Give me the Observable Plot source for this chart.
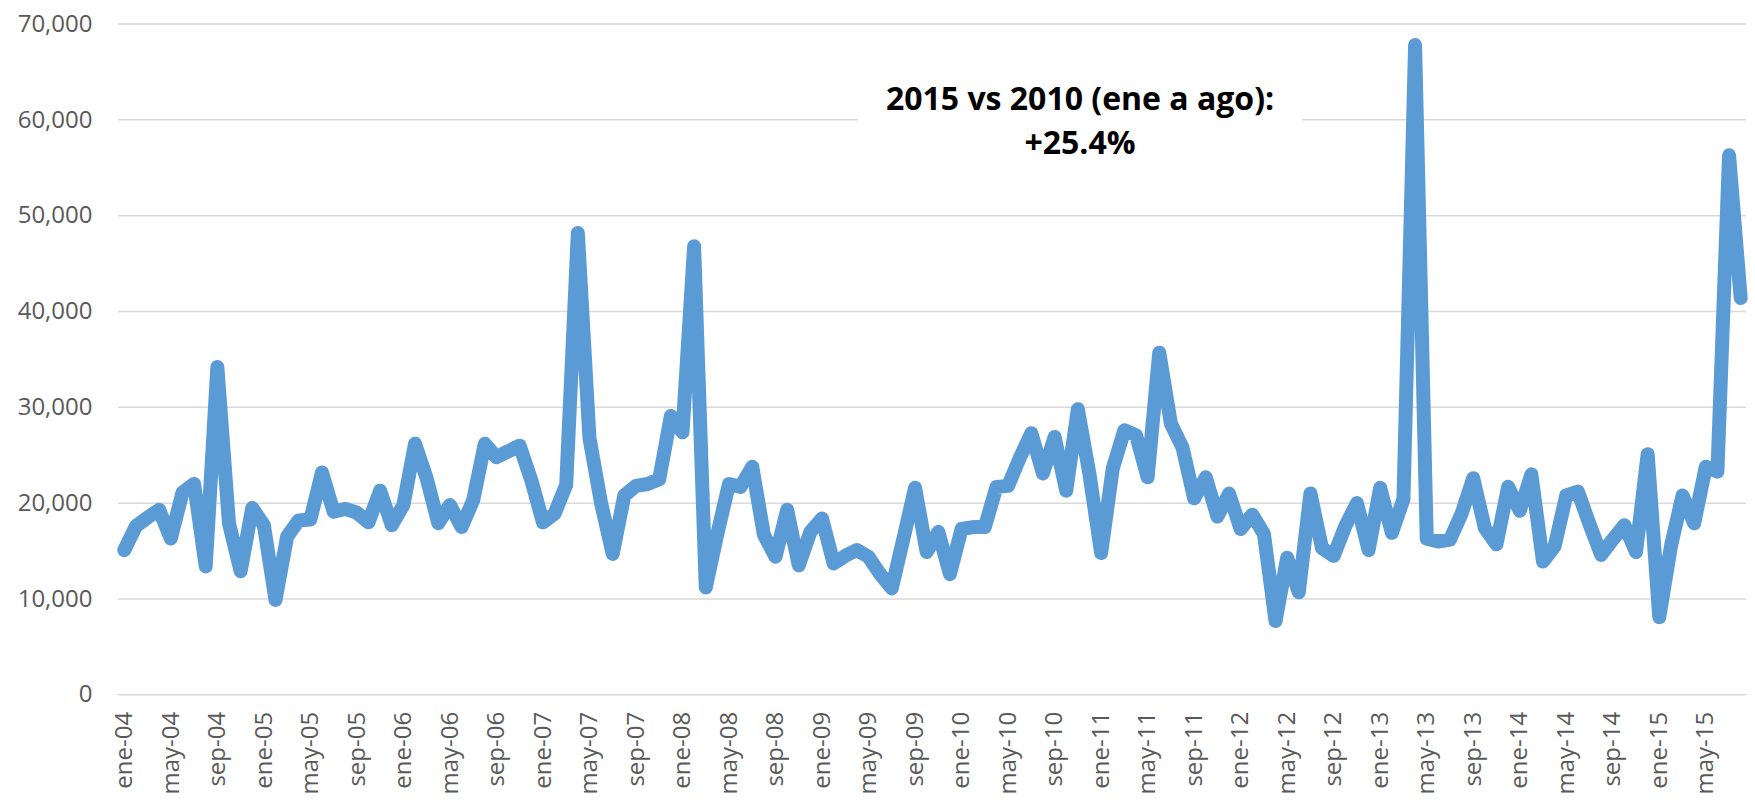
<!DOCTYPE html>
<html>
<head>
<meta charset="utf-8">
<script src="https://cdn.jsdelivr.net/npm/d3@7"></script>
<script src="https://cdn.jsdelivr.net/npm/@observablehq/plot@0.6"></script>
<style>
  html, body { margin: 0; padding: 0; background: #fff; }
  #wrap { position: relative; width: 1755px; height: 800px; overflow: hidden; background: #fff; }
  #note {
    position: absolute; left: 858px; top: 58px; width: 444px; height: 115px;
    background: #fff; box-sizing: border-box; padding-top: 18px;
    font-family: "Open Sans", sans-serif; font-weight: 700; font-size: 32px;
    line-height: 44px; text-align: center; color: #000;
  }
</style>
</head>
<body>
<div id="wrap">
  <div id="chart"></div>
  <div id="note">2015 vs 2010 (ene a ago):<br>+25.4%</div>
</div>
<script>
// ---- data ----
const monthNames = ["ene", "feb", "mar", "abr", "may", "jun", "jul", "ago", "sep", "oct", "nov", "dic"];
const years = ["04", "05", "06", "07", "08", "09", "10", "11", "12", "13", "14", "15"];
const values = [
  15100, 17600, 18500, 19300, 16300, 21100, 22000, 13400, 34200, 17900, 12900, 19500, // 2004
  17700, 9900, 16500, 18200, 18300, 23200, 19100, 19400, 19000, 18000, 21300, 17700,  // 2005
  19800, 26200, 22600, 17900, 19800, 17500, 20300, 26200, 24800, 25400, 26000, 22400, // 2006
  18000, 18900, 21900, 48200, 26800, 20000, 14700, 20800, 21800, 22000, 22500, 29100, // 2007
  27400, 46800, 11200, 16800, 22000, 21700, 23800, 16700, 14400, 19300, 13500, 17000, // 2008
  18400, 13700, 14500, 15100, 14400, 12600, 11100, 16300, 21600, 14900, 17000, 12600, // 2009
  17300, 17500, 17500, 21700, 21800, 24700, 27300, 23100, 26900, 21300, 29800, 23000, // 2010
  14800, 23600, 27600, 27100, 22700, 35700, 28300, 25800, 20500, 22700, 18600, 21000, // 2011
  17300, 18800, 16800, 7700, 14300, 10700, 21000, 15300, 14500, 17600, 20000, 15100,  // 2012
  21600, 16900, 20400, 67800, 16300, 16000, 16200, 18900, 22600, 17400, 15700, 21700, // 2013
  19200, 23000, 13900, 15500, 20800, 21200, 17800, 14600, 16200, 17700, 14900, 25100, // 2014
  8100, 15500, 20800, 17900, 23800, 23300, 56300, 41400                               // 2015 (ene-ago)
];
const yTicks = [0, 10000, 20000, 30000, 40000, 50000, 60000, 70000];
const tickMonths = ["ene", "may", "sep"];

// ---- build table ----
const categories = [];
for (const y of years) for (const m of monthNames) categories.push(`${m}-${y}`);
categories.length = values.length;
const data = values.map((v, i) => ({month: categories[i], value: v}));
const tickLabels = categories.filter(c => tickMonths.includes(c.slice(0, 3)));

const chart = Plot.plot({
  width: 1755,
  height: 800,
  marginLeft: 118,
  marginRight: 9,
  marginTop: 23.5,
  marginBottom: 105.7,
  style: {fontFamily: '"Open Sans", sans-serif', fontSize: "24px", color: "#595959", background: "#fff"},
  x: {type: "point", domain: categories, padding: 0.5},
  y: {domain: [0, 70000]},
  marks: [
    Plot.gridY(yTicks, {stroke: "#d9d9d9", strokeOpacity: 1, strokeWidth: 1.5}),
    Plot.axisY(yTicks, {tickFormat: d3.format(","), tickSize: 0, tickPadding: 26, label: null, fill: "#595959"}),
    Plot.axisX(tickLabels, {tickRotate: -90, tickSize: 0, tickPadding: 17, label: null, fill: "#595959"}),
    Plot.line(data, {x: "month", y: "value", stroke: "#5b9bd5", strokeWidth: 14, strokeLinejoin: "round", strokeLinecap: "round"})
  ]
});
document.getElementById("chart").appendChild(chart);
</script>
</body>
</html>
